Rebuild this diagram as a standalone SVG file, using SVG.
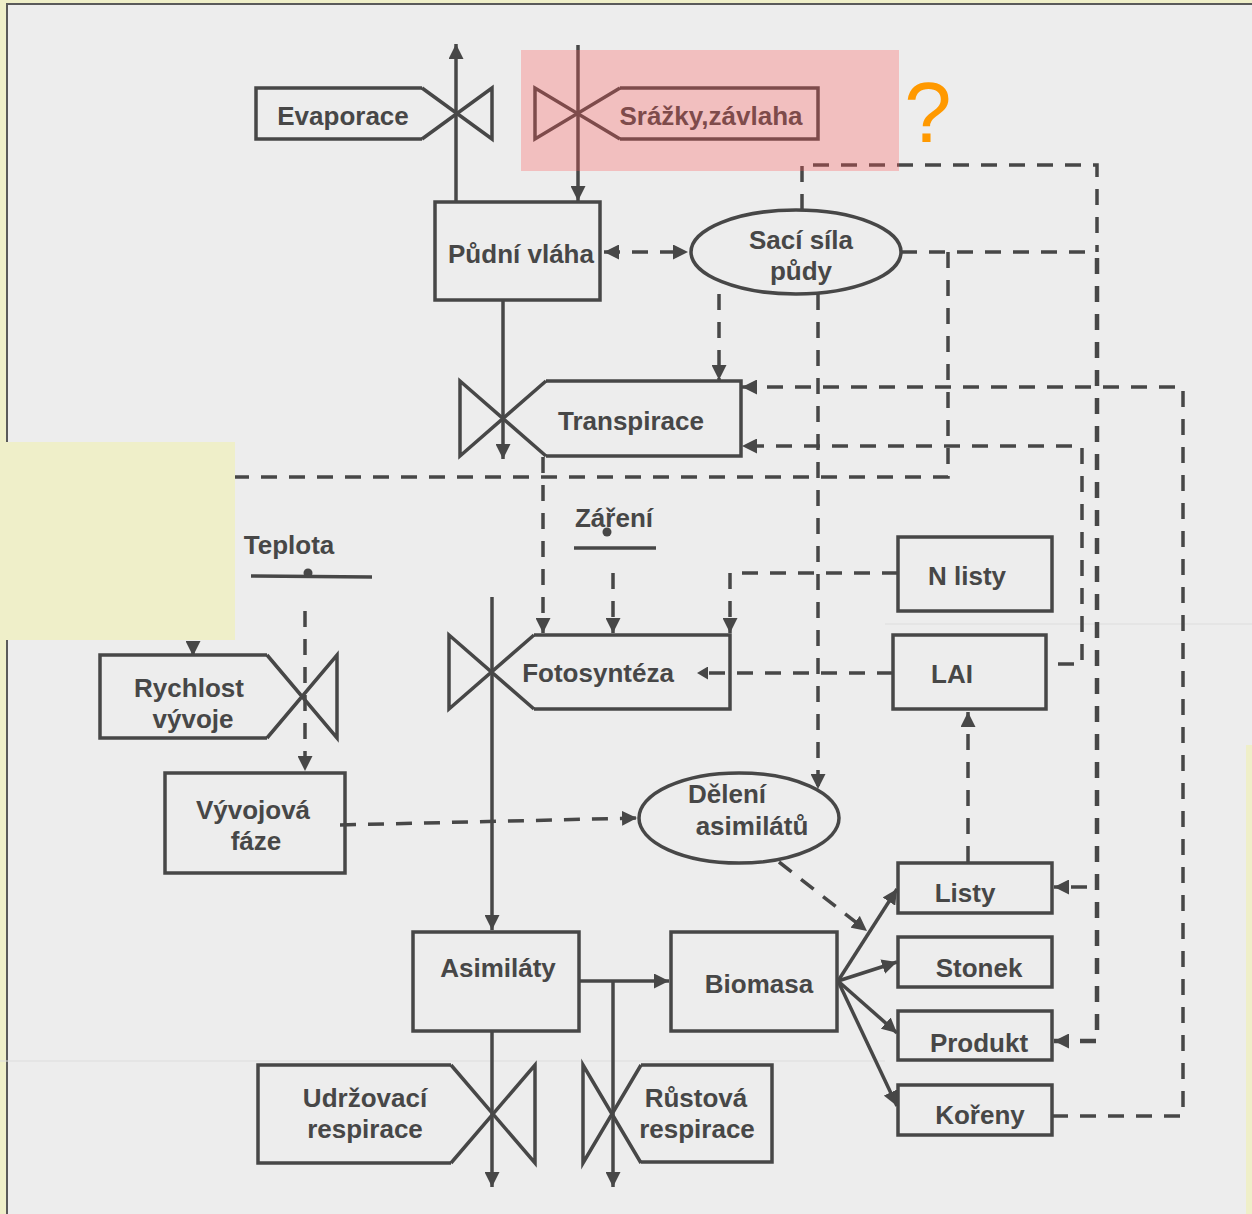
<svg xmlns="http://www.w3.org/2000/svg" width="1252" height="1214" viewBox="0 0 1252 1214">
<style>
.ln{fill:none;stroke:#474747;stroke-width:3.5;stroke-linejoin:miter}
.bx{fill:none;stroke:#474747;stroke-width:3.5}
.c{fill:none;stroke:#474747;stroke-width:3.5}
.d{fill:none;stroke:#474747;stroke-width:3.5;stroke-dasharray:16 12}
.t{font-family:"Liberation Sans",Arial,sans-serif;font-weight:bold;font-size:26px;fill:#474747;text-anchor:middle}
.ar{marker-end:url(#a)}
</style>
<defs>
<marker id="a" viewBox="0 0 15 15" refX="15" refY="7.5" markerWidth="15" markerHeight="15" orient="auto-start-reverse" markerUnits="userSpaceOnUse"><path d="M0,0 L15,7.5 L0,15 z" fill="#474747"/></marker>
<marker id="s" viewBox="0 0 11 13" refX="11" refY="6.5" markerWidth="11" markerHeight="13" orient="auto" markerUnits="userSpaceOnUse"><path d="M0,0 L11,6.5 L0,13 z" fill="#474747"/></marker>
</defs>
<rect x="0" y="0" width="1252" height="1214" fill="#efefc9"/>
<rect x="7" y="4" width="1245" height="1210" fill="#ededed"/>
<path d="M7,1214 V4 H1252" fill="none" stroke="#5a5a5a" stroke-width="2"/>
<path d="M885,624 H1252 M0,1061 H885" stroke="#dddddd" stroke-width="1" fill="none"/>

<g id="connectors">
<path class="c ar" d="M456,202 V44"/>
<path class="c ar" d="M578,45 V201"/>
<path class="c ar" d="M503,300 V459"/>
<path class="c ar" d="M492,597 V930"/>
<path class="c ar" d="M579,981 H669"/>
<path class="c ar" d="M613,981 V1187"/>
<path class="c ar" d="M492,1031 V1187"/>
<path class="c ar" d="M838,981 L897,889"/>
<path class="c ar" d="M838,981 L897,962"/>
<path class="c ar" d="M838,981 L897,1033"/>
<path class="c ar" d="M838,981 L897,1106"/>
<path class="d" d="M604,252 H688" marker-start="url(#a)" marker-end="url(#a)"/>
<path class="d" d="M802,210 V165 H1097 V252"/>
<path class="d" d="M901,252 H1094"/>
<path class="d ar" d="M1097,258 V1041 H1054" style="stroke-width:4.5"/>
<path class="d ar" d="M1087,887 H1054"/>
<path class="d ar" d="M719,294 V380"/>
<path class="d ar" d="M818,294 V789"/>
<path class="d ar" d="M948,252 V477 H193 V656"/>
<path class="d ar" d="M543,457 V633"/>
<path class="d ar" d="M1052,1116 H1183 V387 H742"/>
<path class="d ar" d="M1058,664 H1082 V446 H742"/>
<path class="d ar" d="M613,573 V633"/>
<path class="d ar" d="M898,573 H730 V633"/>
<path class="d" d="M893,673 H697" marker-end="url(#s)"/>
<path class="d ar" d="M968,862 V712"/>
<path class="d ar" d="M305,611 V771"/>
<path class="d ar" d="M340,825 L637,818"/>
<path class="d ar" d="M779,862 L867,931"/>
</g>

<g id="evaporace">
<path class="ln" d="M422,88 H256 V139 H422"/>
<path class="ln" d="M422,88 L492,139 V88 L422,139"/>
<text class="t" x="343" y="125">Evaporace</text>
</g>
<g id="srazky">
<path class="ln" d="M620,88 H818 V139 H620"/>
<path class="ln" d="M620,88 L535,139 V88 L620,139"/>
<text class="t" x="711" y="125">Srážky,závlaha</text>
</g>
<g id="pudni-vlaha">
<rect class="bx" x="435" y="202" width="165" height="98"/>
<text class="t" x="521" y="263">Půdní vláha</text>
</g>
<g id="saci-sila">
<ellipse class="bx" cx="796" cy="252" rx="105" ry="42"/>
<text class="t" x="801" y="249">Sací síla</text>
<text class="t" x="801" y="280">půdy</text>
</g>
<g id="transpirace">
<path class="ln" d="M546,381 H741 V456 H546"/>
<path class="ln" d="M546,381 L460,456 V381 L546,456"/>
<text class="t" x="631" y="430">Transpirace</text>
</g>
<g id="zareni">
<text class="t" x="614" y="527">Záření</text>
<path class="c" d="M574,548 H656"/>
<circle cx="607" cy="532" r="4.5" fill="#474747"/>
</g>
<g id="teplota">
<text class="t" x="289" y="554">Teplota</text>
<path class="c" d="M251,576 L372,577"/>
<circle cx="308" cy="573" r="4.5" fill="#474747"/>
</g>
<g id="fotosynteza">
<path class="ln" d="M534,635 H730 V709 H534"/>
<path class="ln" d="M534,635 L449,709 V635 L534,709"/>
<text class="t" x="598" y="682">Fotosyntéza</text>
</g>
<g id="n-listy">
<rect class="bx" x="898" y="537" width="154" height="74"/>
<text class="t" x="967" y="585">N listy</text>
</g>
<g id="lai">
<rect class="bx" x="893" y="635" width="153" height="74"/>
<text class="t" x="952" y="683">LAI</text>
</g>
<g id="rychlost-vyvoje">
<path class="ln" d="M267,655 H100 V738 H267"/>
<path class="ln" d="M267,655 L337,738 V655 L267,738"/>
<text class="t" x="189" y="697">Rychlost</text>
<text class="t" x="193" y="728">vývoje</text>
</g>
<g id="vyvojova-faze">
<rect class="bx" x="165" y="773" width="180" height="100"/>
<text class="t" x="253" y="819">Vývojová</text>
<text class="t" x="256" y="850">fáze</text>
</g>
<g id="deleni-asimilatu">
<ellipse class="bx" cx="739" cy="818" rx="100" ry="45"/>
<text class="t" x="727" y="803">Dělení</text>
<text class="t" x="752" y="835">asimilátů</text>
</g>
<g id="asimilaty">
<rect class="bx" x="413" y="932" width="166" height="99"/>
<text class="t" x="498" y="977">Asimiláty</text>
</g>
<g id="biomasa">
<rect class="bx" x="671" y="932" width="166" height="99"/>
<text class="t" x="759" y="993">Biomasa</text>
</g>
<g id="listy">
<rect class="bx" x="898" y="863" width="154" height="50"/>
<text class="t" x="965" y="902">Listy</text>
</g>
<g id="stonek">
<rect class="bx" x="898" y="937" width="154" height="50"/>
<text class="t" x="979" y="977">Stonek</text>
</g>
<g id="produkt">
<rect class="bx" x="898" y="1011" width="154" height="49"/>
<text class="t" x="979" y="1052">Produkt</text>
</g>
<g id="koreny">
<rect class="bx" x="898" y="1085" width="154" height="50"/>
<text class="t" x="980" y="1124">Kořeny</text>
</g>
<g id="udrzovaci-respirace">
<path class="ln" d="M451,1065 H258 V1163 H451"/>
<path class="ln" d="M451,1065 L535,1163 V1065 L451,1163"/>
<text class="t" x="365" y="1107">Udržovací</text>
<text class="t" x="365" y="1138">respirace</text>
</g>
<g id="rustova-respirace">
<path class="ln" d="M641,1065 H772 V1162 H641"/>
<path class="ln" d="M641,1065 L583,1163 V1065 L641,1163"/>
<text class="t" x="696" y="1107">Růstová</text>
<text class="t" x="697" y="1138">respirace</text>
</g>

<rect x="0" y="442" width="235" height="198" fill="#efefc9"/>
<rect x="1246" y="745" width="6" height="469" fill="#efefc9"/>
<rect x="521" y="50" width="378" height="121" fill="#ff5555" fill-opacity="0.3"/>
<text x="928" y="142" font-family="Liberation Sans,Arial,sans-serif" font-size="85" fill="#ff9900" text-anchor="middle">?</text>
</svg>
